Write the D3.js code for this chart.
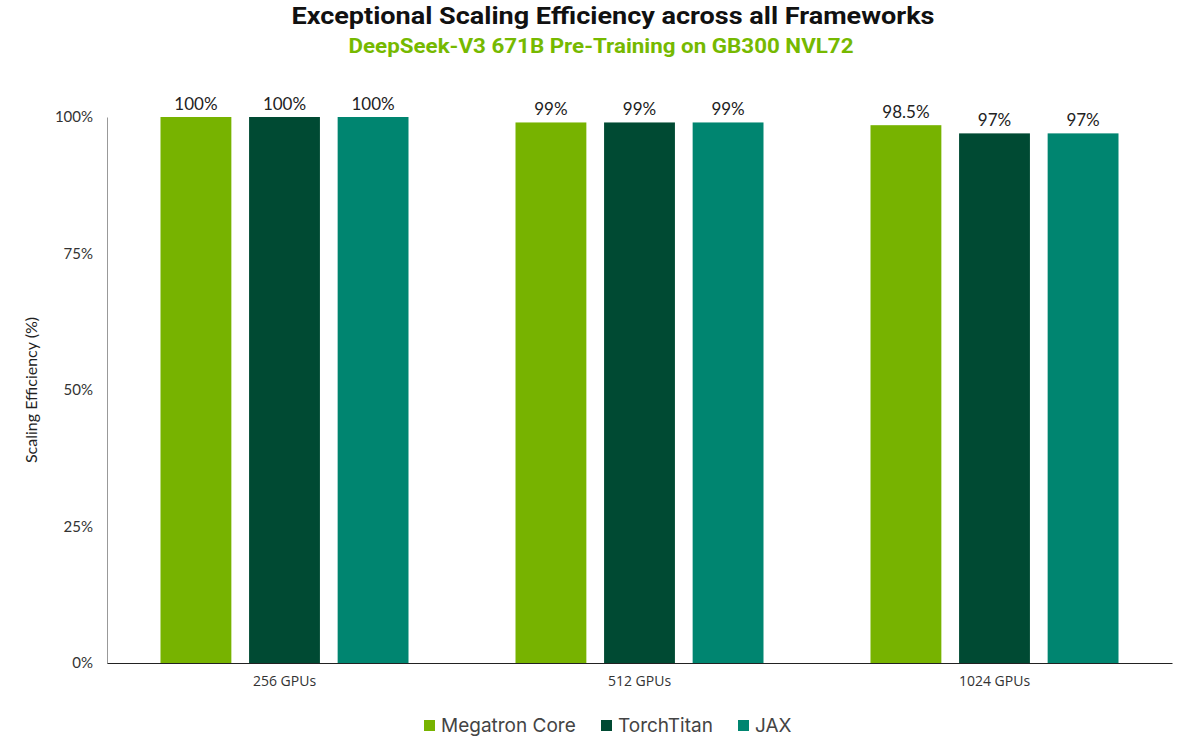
<!DOCTYPE html>
<html>
<head>
<meta charset="utf-8">
<script src="https://cdn.jsdelivr.net/npm/d3@7"></script>
<style>
  body { margin: 0; background: #fff; }
  text { font-family: "Open Sans", "Noto Sans", sans-serif; }
</style>
</head>
<body>
<svg id="chart"></svg>
<script>
const width = 1186;
const height = 750;

// data
const categories = ['256 GPUs', '512 GPUs', '1024 GPUs'];
const frameworks = ['Megatron Core', 'TorchTitan', 'JAX'];
const megatronValues = [100, 99, 98.5];
const torchTitanValues = [100, 99, 97];
const jaxValues = [100, 99, 97];
const valueLabels = [
    ['100%', '100%', '100%'],
    ['99%', '99%', '99%'],
    ['98.5%', '97%', '97%']
];
const yTicks = [0, 25, 50, 75, 100];
const colors = ['#77b300', '#004a33', '#008570'];

const series = [megatronValues, torchTitanValues, jaxValues];

const margin = {top: 117, right: 14, bottom: 87, left: 107};

const svg = d3.select('#chart')
    .attr('width', width)
    .attr('height', height);

const x0 = d3.scaleBand()
    .domain(categories)
    .range([margin.left, width - margin.right])
    .padding(0);

const x1 = d3.scaleBand()
    .domain(frameworks)
    .range([53.5, x0.bandwidth() - 53.5])
    .paddingInner(0.2);

const y = d3.scaleLinear()
    .domain([0, 100])
    .range([height - margin.bottom, margin.top]);

// title
svg.append('text')
    .attr('x', 613)
    .attr('y', 24)
    .attr('text-anchor', 'middle')
    .style('font-family', 'Roboto, sans-serif')
    .style('font-weight', 'bold')
    .style('font-size', '24px')
    .attr('textLength', 643)
    .attr('lengthAdjust', 'spacingAndGlyphs')
    .attr('fill', '#111')
    .text('Exceptional Scaling Efficiency across all Frameworks');

svg.append('text')
    .attr('x', 601)
    .attr('y', 53)
    .attr('text-anchor', 'middle')
    .style('font-family', 'Roboto, sans-serif')
    .style('font-weight', 'bold')
    .style('font-size', '20px')
    .attr('textLength', 505)
    .attr('lengthAdjust', 'spacingAndGlyphs')
    .attr('fill', '#76b900')
    .text('DeepSeek-V3 671B Pre-Training on GB300 NVL72');

// y axis
const yAxis = svg.append('g')
    .attr('transform', `translate(${margin.left},0)`)
    .call(d3.axisLeft(y).tickValues(yTicks).tickSize(0).tickPadding(14).tickFormat(d => d + '%'));
yAxis.select('.domain').attr('stroke', '#999');
yAxis.selectAll('text')
    .style('font-family', 'Lato, sans-serif')
    .style('font-size', '15px')
    .attr('fill', '#333');

svg.append('text')
    .attr('transform', `translate(37,${(margin.top + height - margin.bottom) / 2}) rotate(-90)`)
    .attr('text-anchor', 'middle')
    .style('font-family', 'Lato, sans-serif')
    .style('font-size', '16px')
    .attr('fill', '#222')
    .text('Scaling Efficiency (%)');

// bars
const groups = svg.append('g')
    .selectAll('g')
    .data(categories)
    .enter().append('g')
    .attr('transform', d => `translate(${x0(d)},0)`);

groups.selectAll('rect')
    .data((d, i) => frameworks.map((f, j) => ({f: f, v: series[j][i], label: valueLabels[i][j], c: colors[j]})))
    .enter().append('rect')
    .attr('x', d => x1(d.f))
    .attr('y', d => y(d.v))
    .attr('width', x1.bandwidth())
    .attr('height', d => y(0) - y(d.v))
    .attr('fill', d => d.c);

groups.selectAll('.val')
    .data((d, i) => frameworks.map((f, j) => ({f: f, v: series[j][i], label: valueLabels[i][j]})))
    .enter().append('text')
    .attr('class', 'val')
    .attr('x', d => x1(d.f) + x1.bandwidth() / 2)
    .attr('y', d => y(d.v) - 7)
    .attr('text-anchor', 'middle')
    .style('font-family', 'Lato, sans-serif')
    .style('font-size', '17px')
    .attr('fill', '#222')
    .text(d => d.label);

// x axis
const xAxis = svg.append('g')
    .attr('transform', `translate(0,${height - margin.bottom})`)
    .call(d3.axisBottom(x0).tickSize(0).tickPadding(13));
xAxis.select('.domain').attr('stroke', '#222');
xAxis.selectAll('text')
    .style('font-family', '"Open Sans", sans-serif')
    .style('font-size', '14px')
    .attr('fill', '#333');

// legend
const legendX = [424, 601, 738];
const legend = svg.append('g')
    .selectAll('g')
    .data(frameworks)
    .enter().append('g')
    .attr('transform', (d, i) => `translate(${legendX[i]},720)`);

legend.append('rect')
    .attr('width', 11)
    .attr('height', 11)
    .attr('fill', (d, i) => colors[i]);

legend.append('text')
    .attr('x', 17)
    .attr('y', 12)
    .style('font-family', 'Inter, sans-serif')
    .style('font-size', '19px')
    .attr('fill', '#444')
    .text(d => d);
</script>
</body>
</html>
